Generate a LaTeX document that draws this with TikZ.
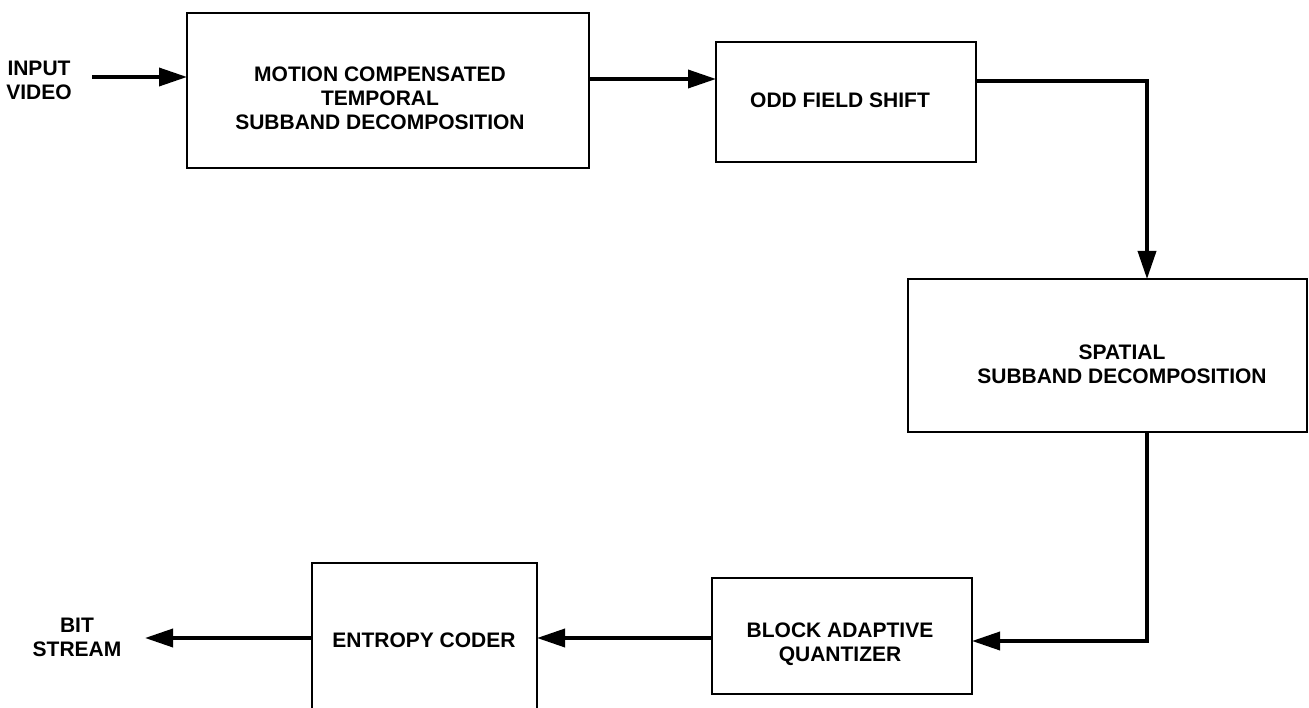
\documentclass[tikz,border=0pt]{standalone}
\usepackage{fontspec}
\setmainfont{Liberation Sans}
\usetikzlibrary{arrows.meta,calc}
\begin{document}
\begin{tikzpicture}[x=1pt,y=-1pt,
  blk/.style={draw,line width=2.6pt,anchor=north west,inner sep=0pt,outer sep=0pt},
  lbl/.style={align=center,inner sep=0pt,font=\fontsize{21}{24}\selectfont\bfseries},
  flow/.style={line width=3.6pt,line join=miter,-{Triangle[length=28pt,width=18pt]}},
  wire/.style={line width=3.6pt}]
\useasboundingbox (0,0) rectangle (1309,708);
% boxes
\node[blk,minimum width=402pt,minimum height=155pt] (mct) at (187,13) {};
\node[blk,minimum width=260pt,minimum height=120pt] (odd) at (716,42) {};
\node[blk,minimum width=399pt,minimum height=153pt] (spa) at (908,279) {};
\node[blk,minimum width=260pt,minimum height=116pt] (baq) at (712,578) {};
\node[blk,minimum width=225pt,minimum height=165pt] (ent) at (312,563) {};
% labels
\node[lbl] (tin) at (39,80) {INPUT\\VIDEO};
\node[lbl] (tmct) at (380,98) {MOTION COMPENSATED\\TEMPORAL\\SUBBAND DECOMPOSITION};
\node[lbl] (todd) at (840,100) {ODD FIELD SHIFT};
\node[lbl] (tspa) at (1122,364) {SPATIAL\\SUBBAND DECOMPOSITION};
\node[lbl] (tbaq) at (840,644) {BLOCK ADAPTIVE\\QUANTIZER};
\node[lbl] (tent) at (424,640) {ENTROPY CODER};
\node[lbl] (tbit) at (77,637) {BIT\\STREAM};
% connector points
\coordinate (pin) at (92,77);
\coordinate (y1) at (0,79);
\coordinate (y2) at (0,81);
\coordinate (xr) at (1147,0);
\coordinate (y3) at (0,641);
\coordinate (y4) at (0,638);
\coordinate (pout) at (145,638);
% connectors
\draw[flow] (pin) -- (pin -| mct.west);
\draw[flow] (mct.east |- y1) -- (odd.west |- y1);
\draw[flow] (odd.east |- y2) -- (xr |- y2) -- (xr |- spa.north);
\draw[flow] (xr |- spa.south) -- (xr |- y3) -- (baq.east |- y3);
\draw[flow] (baq.west |- y4) -- (ent.east |- y4);
\draw[flow] (ent.west |- y4) -- (pout);
\end{tikzpicture}
\end{document}
